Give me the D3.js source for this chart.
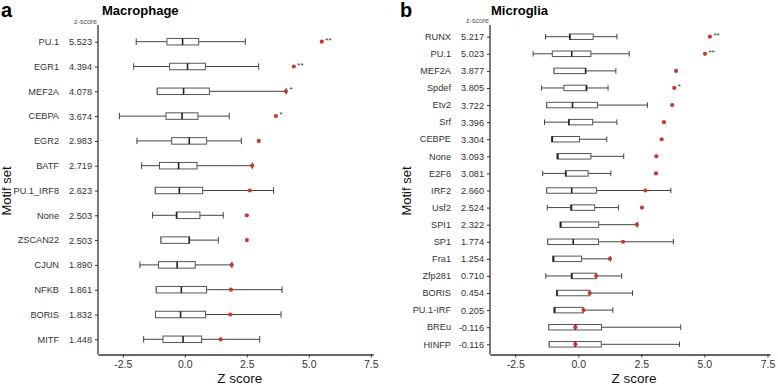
<!DOCTYPE html>
<html><head><meta charset="utf-8">
<script src="https://cdn.jsdelivr.net/npm/d3@7"></script>
<style>body{margin:0;background:#fff}svg{font-family:"Liberation Sans",Arial,sans-serif}</style>
</head><body><svg id="c" width="778" height="385"></svg>
<script>
// ---------- Data: panel a (Macrophage) ----------
const macCats = ["PU.1","EGR1","MEF2A","CEBPA","EGR2","BATF","PU.1_IRF8","None","ZSCAN22","CJUN","NFKB","BORIS","MITF"];
const macZ    = [5.523,4.394,4.078,3.674,2.983,2.719,2.623,2.503,2.503,1.890,1.861,1.832,1.448];
const macWlo  = [-1.96,-2.06,-1.11,-2.64,-1.93,-1.74,-1.19,-1.30,-0.96,-1.81,-1.15,-1.18,-1.66];
const macQ1   = [-0.72,-0.61,-1.11,-0.76,-0.53,-1.02,-1.19,-0.34,-0.96,-1.06,-1.15,-1.18,-0.88];
const macMed  = [-0.09,0.11,-0.05,-0.11,0.18,-0.25,-0.22,-0.33,0.18,-0.31,-0.14,-0.17,-0.07];
const macQ3   = [0.56,0.83,0.99,0.53,0.88,0.49,0.72,0.61,0.19,0.42,0.88,0.84,0.68];
const macWhi  = [2.44,2.98,4.09,1.79,2.28,2.72,3.58,1.55,1.35,1.90,3.92,3.88,3.02];
const macSig  = ["**","**","*","*","","","","","","","","",""];

// ---------- Data: panel b (Microglia) ----------
const micCats = ["RUNX","PU.1","MEF2A","Spdef","Etv2","Srf","CEBPE","None","E2F6","IRF2","Usf2","SPI1","SP1","Fra1","Zfp281","BORIS","PU.1-IRF","BREu","HINFP"];
const micZ    = [5.217,5.023,3.877,3.805,3.722,3.396,3.304,3.093,3.081,2.660,2.524,2.322,1.774,1.254,0.710,0.454,0.205,-0.116,-0.116];
const micWlo  = [-1.30,-1.79,-0.96,-1.46,-1.25,-1.34,-1.06,-0.84,-1.41,-1.25,-1.23,-0.72,-1.21,-1.01,-1.29,-0.86,-0.96,-1.17,-1.15];
const micQ1   = [-0.35,-1.03,-0.96,-0.57,-1.25,-0.39,-1.06,-0.84,-0.51,-1.25,-0.30,-0.72,-1.21,-1.01,-0.28,-0.86,-0.96,-1.17,-1.15];
const micMed  = [-0.33,-0.26,0.29,0.32,-0.23,-0.37,-1.03,-0.81,-0.49,-0.26,-0.27,-0.69,-0.20,-0.98,-0.25,-0.84,-0.93,-0.12,-0.12];
const micQ3   = [0.59,0.50,0.29,0.34,0.76,0.57,0.05,0.50,0.39,0.72,0.65,0.81,0.80,0.13,0.72,0.46,0.21,0.92,0.91];
const micWhi  = [1.53,2.02,1.49,1.18,2.74,1.53,1.13,1.80,1.29,3.67,1.59,2.35,3.77,1.28,1.72,2.15,1.37,4.06,4.01];
const micSig  = ["**","**","","*","","","","","","","","","","","","","","",""];

const xTicks = [-2.5, 0, 2.5, 5, 7.5];

const svg = d3.select("#c");
const TXT = "#333";
const hy = s => s.replace("\u2212", "-");

function panel(o) {
  const g = svg.append("g");
  const x = d3.scaleLinear().domain([-3.5, 7.6]).range(o.xr);
  const y = d3.scalePoint().domain(o.cats).range(o.yr);
  const axisY = 354.5;

  // bottom axis
  const ax = g.append("g").attr("transform", `translate(0,${axisY})`)
    .call(d3.axisBottom(x).tickValues(xTicks).tickFormat(v => hy(d3.format(".1f")(v))).tickSize(3).tickSizeOuter(0));
  ax.select(".domain").attr("stroke", "#333").attr("stroke-width", 1.3);
  ax.selectAll(".tick line").attr("stroke", "#333");
  ax.selectAll(".tick text").attr("font-size", 10.5).attr("fill", TXT);

  // left axis with z-score labels
  const zmap = new Map(o.cats.map((c, i) => [c, o.z[i]]));
  const ay = g.append("g").attr("transform", `translate(${x(-3.5)},0)`)
    .call(d3.axisLeft(y).tickFormat(c => hy(d3.format(".3f")(zmap.get(c)))).tickSize(3).tickSizeOuter(0));
  ay.select(".domain").attr("stroke", "#333").attr("stroke-width", 1.3)
    .attr("d", `M0,25V${axisY}`);
  ay.selectAll(".tick line").attr("stroke", "#333");
  ay.selectAll(".tick text").attr("font-size", 9.2).attr("fill", TXT).attr("x", -6);

  // category labels
  g.selectAll("text.cat").data(o.cats).join("text").attr("class", "cat")
    .attr("x", o.catX).attr("y", d => y(d)).attr("dy", "0.35em")
    .attr("text-anchor", "end").attr("font-size", 9.2).attr("fill", TXT).text(d => d);

  // z-score header
  g.append("text").attr("x", x(-3.5) - 1).attr("y", o.hdrY).attr("text-anchor", "end")
    .attr("font-size", 7).attr("fill", "#555").text("z-score");

  // boxplots
  const bh = o.bh;
  const rows = o.cats.map((c, i) => ({c, wlo: o.wlo[i], q1: o.q1[i], med: o.med[i], q3: o.q3[i], whi: o.whi[i], z: o.z[i], s: o.sig[i]}));
  const b = g.selectAll("g.box").data(rows).join("g").attr("class", "box");
  b.append("line").attr("x1", d => x(d.wlo)).attr("x2", d => x(d.q1)).attr("y1", d => y(d.c)).attr("y2", d => y(d.c)).attr("stroke", "#444");
  b.append("line").attr("x1", d => x(d.q3)).attr("x2", d => x(d.whi)).attr("y1", d => y(d.c)).attr("y2", d => y(d.c)).attr("stroke", "#444");
  b.append("line").attr("x1", d => x(d.wlo)).attr("x2", d => x(d.wlo)).attr("y1", d => y(d.c) - bh / 2).attr("y2", d => y(d.c) + bh / 2).attr("stroke", "#444");
  b.append("line").attr("x1", d => x(d.whi)).attr("x2", d => x(d.whi)).attr("y1", d => y(d.c) - bh / 2).attr("y2", d => y(d.c) + bh / 2).attr("stroke", "#444");
  b.append("rect").attr("x", d => x(d.q1)).attr("width", d => Math.max(0.5, x(d.q3) - x(d.q1)))
    .attr("y", d => y(d.c) - bh / 2).attr("height", bh).attr("fill", "#fff").attr("stroke", "#555").attr("stroke-width", 1);
  b.append("line").attr("x1", d => x(d.med)).attr("x2", d => x(d.med)).attr("y1", d => y(d.c) - bh / 2).attr("y2", d => y(d.c) + bh / 2).attr("stroke", "#222").attr("stroke-width", 1.6);
  b.append("circle").attr("cx", d => x(d.z)).attr("cy", d => y(d.c)).attr("r", 2.1).attr("fill", "#c8392b");
  b.append("text").attr("x", d => x(d.z) + 3.5).attr("y", d => y(d.c) + 1).attr("font-size", 8).attr("fill", "#333").text(d => d.s);

  // axis titles
  g.append("text").attr("x", (o.xr[0] + o.xr[1]) / 2 + 4).attr("y", 383).attr("text-anchor", "middle")
    .attr("font-size", 13.5).attr("fill", "#111").text("Z score");
  g.append("text").attr("transform", `translate(${o.ytX},191) rotate(-90)`).attr("text-anchor", "middle")
    .attr("font-size", 13).attr("fill", "#111").text("Motif set");

  // panel letter & title
  g.append("text").attr("x", o.letterX).attr("y", 17).attr("font-size", 20).attr("font-weight", "bold").attr("fill", "#000").text(o.letter);
  g.append("text").attr("x", o.titleX).attr("y", 15).attr("font-size", 13).attr("font-weight", "bold").attr("fill", "#000").text(o.title);
}

panel({cats: macCats, z: macZ, wlo: macWlo, q1: macQ1, med: macMed, q3: macQ3, whi: macWhi, sig: macSig,
  xr: [98, 373.3], yr: [41.7, 339.3], catX: 59, hdrY: 24, bh: 6.5, ytX: 11, letter: "a", letterX: 1, title: "Macrophage", titleX: 102});
panel({cats: micCats, z: micZ, wlo: micWlo, q1: micQ1, med: micMed, q3: micQ3, whi: micWhi, sig: micSig,
  xr: [490, 770], yr: [36.7, 344.3], catX: 451, hdrY: 23, bh: 5.5, ytX: 410.5, letter: "b", letterX: 400, title: "Microglia", titleX: 491});
</script></body></html>
